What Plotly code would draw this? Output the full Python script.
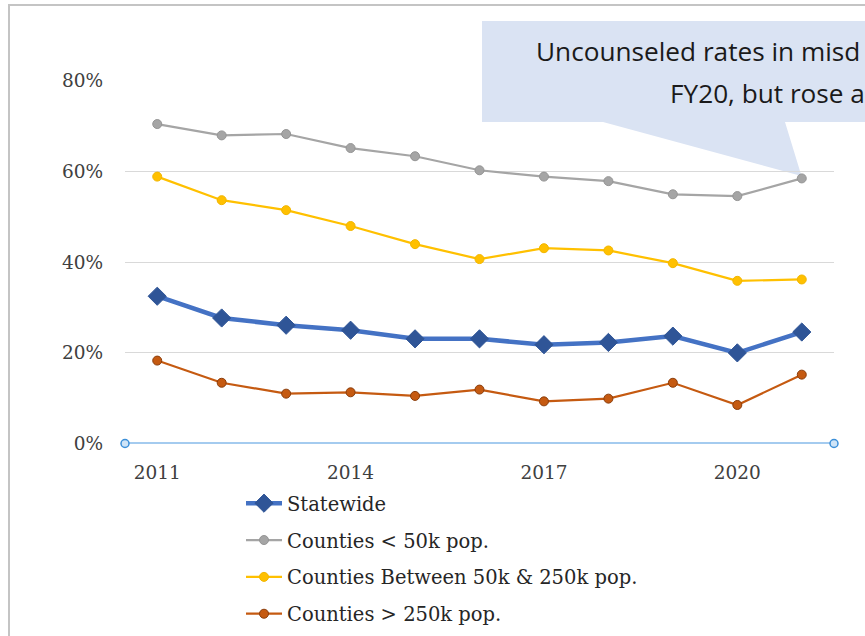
import plotly.graph_objects as go

W, H = 865, 636

years = list(range(2011, 2022))
statewide = [32.5, 27.7, 26.1, 25.0, 23.1, 23.1, 21.8, 22.3, 23.7, 20.0, 24.6]
small = [70.5, 68.0, 68.3, 65.2, 63.4, 60.3, 58.9, 57.9, 55.0, 54.6, 58.5]
mid = [58.9, 53.7, 51.5, 48.0, 44.0, 40.7, 43.1, 42.6, 39.8, 35.9, 36.2]
large = [18.3, 13.4, 11.0, 11.3, 10.5, 11.9, 9.3, 9.9, 13.4, 8.5, 15.2]

series_names = ["Statewide", "Counties < 50k pop.",
                "Counties Between 50k & 250k pop.", "Counties > 250k pop."]
y_ticks = [0, 20, 40, 60, 80]
y_tick_text = ["0%", "20%", "40%", "60%", "80%"]
x_ticks = [2011, 2014, 2017, 2020]
callout_lines = ["Uncounseled rates in misd", "FY20, but rose a"]


def px(x):
    return x / W


def py(y):
    return 1 - y / H


fig = go.Figure()

fig.add_trace(go.Scatter(
    x=years, y=statewide, name=series_names[0], mode="lines+markers",
    line=dict(color="#4472C4", width=4.5),
    marker=dict(symbol="diamond", size=14, color="#2F5597",
                line=dict(color="#2F5597", width=1)),
    legendgroup="a"))
fig.add_trace(go.Scatter(
    x=years, y=small, name=series_names[1], mode="lines+markers",
    line=dict(color="#A5A5A5", width=2.2),
    marker=dict(symbol="circle", size=9, color="#A5A5A5",
                line=dict(color="#959595", width=1)),
    legendgroup="b"))
fig.add_trace(go.Scatter(
    x=years, y=mid, name=series_names[2], mode="lines+markers",
    line=dict(color="#FFC000", width=2.2),
    marker=dict(symbol="circle", size=9, color="#FFC000",
                line=dict(color="#F2B600", width=1)),
    legendgroup="c"))
fig.add_trace(go.Scatter(
    x=years, y=large, name=series_names[3], mode="lines+markers",
    line=dict(color="#C55A11", width=2.2),
    marker=dict(symbol="circle", size=9, color="#C55A11",
                line=dict(color="#8A3D0B", width=1)),
    legendgroup="d"))

x0, x1 = 125, 834
y0p, y80p = 443.5, 81

shapes = []
# chart frame
shapes.append(dict(type="rect", xref="paper", yref="paper",
                   x0=px(9), x1=px(900), y0=py(700), y1=py(5),
                   line=dict(color="#C4C4C4", width=2), fillcolor="rgba(0,0,0,0)",
                   layer="below"))
# callout
pts = [(482, 21), (900, 21), (900, 122), (785, 122), (801.5, 176),
       (603, 122), (482, 122)]
path = "M " + " L ".join(f"{px(a):.5f},{py(b):.5f}" for a, b in pts) + " Z"
shapes.append(dict(type="path", xref="paper", yref="paper", path=path,
                   fillcolor="#DAE3F3", line=dict(width=0), layer="below"))
# x axis selected line
shapes.append(dict(type="line", xref="paper", yref="y", x0=px(x0), x1=px(x1),
                   y0=0, y1=0, line=dict(color="#4A98DF", width=2)))
for cx in (x0, x1):
    shapes.append(dict(type="circle", xref="paper", yref="paper",
                       x0=px(cx - 4), x1=px(cx + 4), y0=py(y0p + 4), y1=py(y0p - 4),
                       line=dict(color="#3C8FD8", width=1.5), fillcolor="#CFE4F7"))

annotations = [
    dict(text=callout_lines[0], xref="paper", yref="paper", x=px(534), y=py(51),
         xanchor="left", yanchor="middle", showarrow=False,
         font=dict(family="Open Sans", size=26.2, color="#1A1A1A")),
    dict(text=callout_lines[1], xref="paper", yref="paper", x=px(668), y=py(93),
         xanchor="left", yanchor="middle", showarrow=False,
         font=dict(family="Open Sans", size=26.2, color="#1A1A1A")),
]

fig.update_layout(
    width=W, height=H,
    margin=dict(l=0, r=0, t=0, b=0),
    paper_bgcolor="white", plot_bgcolor="white",
    shapes=shapes, annotations=annotations,
    xaxis=dict(range=[2010.5, 2021.5], domain=[px(x0), px(x1)],
               tickvals=x_ticks, ticktext=[str(t) for t in x_ticks],
               showgrid=False, zeroline=False, showline=False, ticks="",
               ticklabelstandoff=16, automargin=False,
               tickfont=dict(family="DejaVu Serif", size=18.5, color="#404040")),
    yaxis=dict(range=[0, 80], domain=[py(y0p), py(y80p)],
               tickvals=y_ticks, ticktext=y_tick_text,
               showgrid=True, gridcolor="#D9D9D9", gridwidth=1,
               zeroline=False, showline=False, ticks="",
               ticklabelstandoff=21, automargin=False,
               tickfont=dict(family="DejaVu Serif", size=18.5, color="#404040")),
    legend=dict(x=px(241), y=py(484), xanchor="left", yanchor="top",
                orientation="v", tracegroupgap=8.5, bgcolor="rgba(0,0,0,0)",
                font=dict(family="DejaVu Serif", size=19.5, color="#262626"),
                itemwidth=36),
    showlegend=True,
)

# remove the browser's default 8px body margin so the figure fills the window
fig.write_html("out.html",
               config={"displayModeBar": False},
               post_script="document.body.style.margin='0';")
